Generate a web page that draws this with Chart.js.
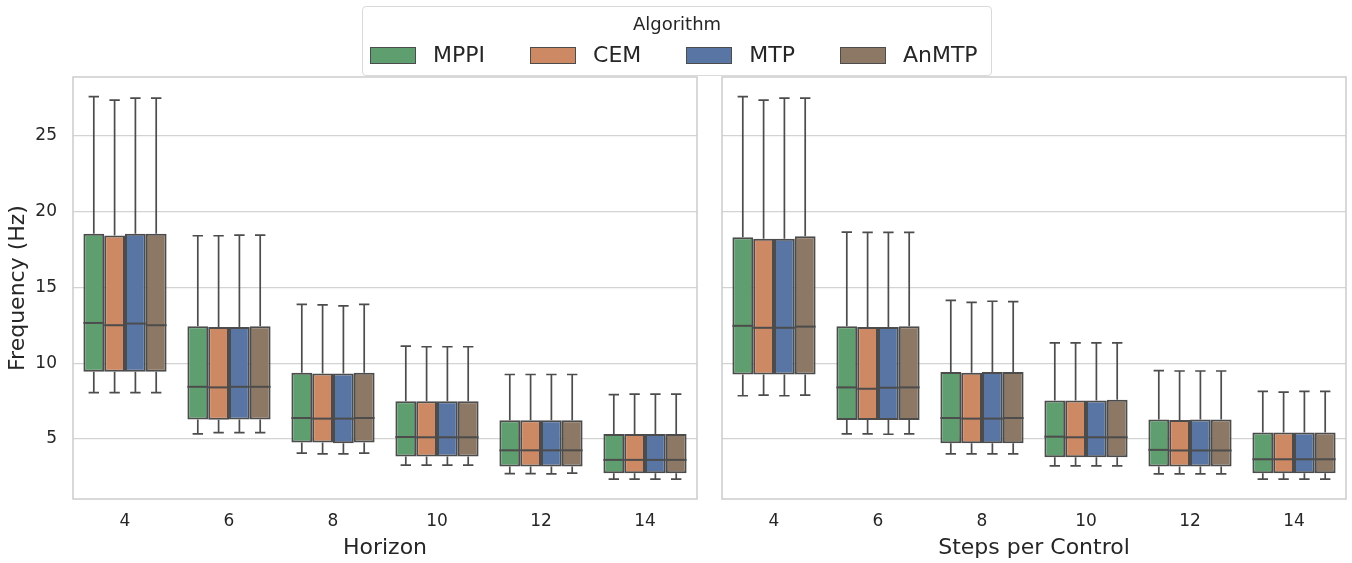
<!DOCTYPE html>
<html>
<head>
<meta charset="utf-8">
<script src="https://cdn.jsdelivr.net/npm/chart.js@4"></script>
<style>
  html, body { margin: 0; padding: 0; background: #ffffff; }
  body { width: 1352px; height: 563px; position: relative; overflow: hidden; font-family: "DejaVu Sans", sans-serif; color: #262626; }
  #horizonChart { position: absolute; left: 0; top: 0; }
  #stepsChart { position: absolute; left: 700px; top: 0; }
  #legend {
    position: absolute; left: 362px; top: 6px; width: 630px; height: 70px;
    box-sizing: border-box; border: 1px solid #d9d9d9; border-radius: 4px; background: #ffffff;
  }
  #legend .title {
    position: absolute; left: 0; right: 0; top: 5px; text-align: center;
    font-size: 18px; line-height: 24px;
  }
  #legend .row {
    position: absolute; left: 7px; top: 36px; height: 24px;
    display: flex; align-items: center; font-size: 22px; line-height: 24px;
  }
  #legend .item { display: flex; align-items: center; margin-right: 45px; }
  #legend .item:last-child { margin-right: 0; }
  #legend .swatch {
    width: 46px; height: 17px; box-sizing: border-box; border: 1.5px solid #4c4c4c; margin-right: 17px;
  }
</style>
</head>
<body>
<canvas id="horizonChart" width="700" height="563"></canvas>
<canvas id="stepsChart" width="652" height="563"></canvas>
<div id="legend">
  <div class="title">Algorithm</div>
  <div class="row" id="legendRow"></div>
</div>
<script>
// Category ticks shared by both panels
const horizonLabels = ['4', '6', '8', '10', '12', '14'];
const stepsLabels = ['4', '6', '8', '10', '12', '14'];
const algorithms = ['MPPI', 'CEM', 'MTP', 'AnMTP'];
const yTicks = [5, 10, 15, 20, 25];

// Box statistics per category: [whisker low, Q1, median, Q3, whisker high]
const horizonMPPI = [
  [8.05, 9.43, 12.65, 18.53, 27.57], [5.33, 6.29, 8.44, 12.43, 18.40], [4.06, 4.76, 6.38, 9.36, 13.88],
  [3.27, 3.84, 5.13, 7.48, 11.12], [2.72, 3.18, 4.25, 6.23, 9.25], [2.35, 2.74, 3.62, 5.33, 7.92]
];
const horizonCEM = [
  [8.05, 9.43, 12.50, 18.42, 27.34], [5.42, 6.26, 8.40, 12.39, 18.40], [4.01, 4.76, 6.34, 9.32, 13.84],
  [3.27, 3.84, 5.11, 7.48, 11.08], [2.72, 3.18, 4.25, 6.23, 9.25], [2.35, 2.74, 3.62, 5.33, 7.96]
];
const horizonMTP = [
  [8.05, 9.43, 12.61, 18.53, 27.48], [5.42, 6.29, 8.44, 12.39, 18.44], [4.01, 4.71, 6.34, 9.32, 13.77],
  [3.27, 3.84, 5.11, 7.48, 11.08], [2.70, 3.18, 4.25, 6.23, 9.25], [2.35, 2.74, 3.62, 5.33, 7.96]
];
const horizonAnMTP = [
  [8.05, 9.43, 12.50, 18.53, 27.48], [5.42, 6.29, 8.44, 12.43, 18.44], [4.06, 4.76, 6.38, 9.36, 13.88],
  [3.27, 3.84, 5.11, 7.48, 11.08], [2.74, 3.18, 4.25, 6.23, 9.25], [2.35, 2.74, 3.62, 5.33, 7.96]
];

const stepsMPPI = [
  [7.85, 9.25, 12.46, 18.31, 27.57], [5.33, 6.25, 8.40, 12.43, 18.64], [4.01, 4.71, 6.38, 9.41, 14.14],
  [3.22, 3.79, 5.15, 7.54, 11.34], [2.70, 3.18, 4.28, 6.29, 9.50], [2.35, 2.74, 3.66, 5.42, 8.14]
];
const stepsCEM = [
  [7.89, 9.25, 12.33, 18.20, 27.34], [5.33, 6.25, 8.31, 12.39, 18.62], [4.01, 4.71, 6.34, 9.36, 14.01],
  [3.22, 3.79, 5.11, 7.54, 11.34], [2.70, 3.18, 4.24, 6.25, 9.48], [2.35, 2.74, 3.66, 5.42, 8.09]
];
const stepsMTP = [
  [7.85, 9.25, 12.33, 18.20, 27.48], [5.31, 6.25, 8.38, 12.39, 18.62], [4.01, 4.71, 6.34, 9.41, 14.08],
  [3.22, 3.79, 5.11, 7.54, 11.34], [2.70, 3.18, 4.24, 6.29, 9.48], [2.35, 2.74, 3.66, 5.42, 8.14]
];
const stepsAnMTP = [
  [7.89, 9.25, 12.41, 18.36, 27.48], [5.33, 6.25, 8.40, 12.43, 18.62], [4.01, 4.71, 6.38, 9.41, 14.06],
  [3.22, 3.79, 5.11, 7.58, 11.34], [2.70, 3.18, 4.24, 6.29, 9.48], [2.35, 2.74, 3.66, 5.42, 8.14]
];

// Styling
const fillColors = ['#5f9e6e', '#cc8963', '#5975a4', '#8c7864'];
const lineColor = '#4c4c4c';
const textColor = '#262626';
const gridColor = '#d3d3d3';
const frameColor = '#cccccc';
const fontFamily = '"DejaVu Sans", sans-serif';

// Draws whiskers, caps and median lines on top of the Q1..Q3 bars
const boxWhiskers = {
  id: 'boxWhiskers',
  afterDatasetsDraw(chart) {
    const ctx = chart.ctx;
    const y = chart.scales.y;
    ctx.save();
    ctx.strokeStyle = lineColor;
    chart.data.datasets.forEach((ds, di) => {
      const meta = chart.getDatasetMeta(di);
      meta.data.forEach((bar, i) => {
        const s = ds.stats[i];
        const half = bar.width / 2;
        const cap = bar.width / 4;
        const x = bar.x;
        const pLow = y.getPixelForValue(s[0]);
        const pQ1 = y.getPixelForValue(s[1]);
        const pMed = y.getPixelForValue(s[2]);
        const pQ3 = y.getPixelForValue(s[3]);
        const pHigh = y.getPixelForValue(s[4]);
        // whiskers and caps
        ctx.lineWidth = 1.7;
        ctx.beginPath();
        ctx.moveTo(x, pQ3); ctx.lineTo(x, pHigh);
        ctx.moveTo(x, pQ1); ctx.lineTo(x, pLow);
        ctx.moveTo(x - cap, pHigh); ctx.lineTo(x + cap, pHigh);
        ctx.moveTo(x - cap, pLow); ctx.lineTo(x + cap, pLow);
        ctx.stroke();
        // median
        ctx.lineWidth = 2;
        ctx.beginPath();
        ctx.moveTo(x - half, pMed); ctx.lineTo(x + half, pMed);
        ctx.stroke();
      });
    });
    ctx.restore();
  }
};

// Light frame around each panel
const panelFrame = {
  id: 'panelFrame',
  beforeDatasetsDraw(chart) {
    const a = chart.chartArea;
    const ctx = chart.ctx;
    ctx.save();
    ctx.strokeStyle = frameColor;
    ctx.lineWidth = 1.5;
    ctx.strokeRect(a.left, a.top, a.right - a.left, a.bottom - a.top);
    ctx.restore();
  }
};

function makePanel(canvasId, labels, seriesList, xTitle, showY, padRight, yWidth) {
  const datasets = seriesList.map((series, k) => ({
    label: algorithms[k],
    data: series.map(s => [s[1], s[3]]),
    stats: series,
    backgroundColor: fillColors[k],
    borderColor: lineColor,
    borderWidth: 2,
    borderSkipped: false,
    categoryPercentage: 0.8,
    barPercentage: 1.0
  }));
  return new Chart(document.getElementById(canvasId), {
    type: 'bar',
    data: { labels, datasets },
    options: {
      responsive: false,
      animation: false,
      events: [],
      layout: { padding: { left: 0, top: 77, right: padRight, bottom: 0 } },
      plugins: { legend: { display: false }, tooltip: { enabled: false }, title: { display: false } },
      scales: {
        x: {
          grid: { display: false, drawTicks: false },
          border: { display: false },
          ticks: { color: textColor, font: { family: fontFamily, size: 17 }, padding: 12 },
          title: { display: true, text: xTitle, color: textColor, font: { family: fontFamily, size: 22 }, padding: { top: 0, bottom: 2 } },
          afterFit(scale) { scale.height = 64; }
        },
        y: {
          min: 1.04,
          max: 28.87,
          grid: { color: gridColor, lineWidth: 1.2, drawTicks: false },
          border: { display: false },
          afterBuildTicks(scale) { scale.ticks = yTicks.map(v => ({ value: v })); },
          ticks: { display: showY, color: textColor, font: { family: fontFamily, size: 17 }, padding: 16 },
          title: { display: showY, text: 'Frequency (Hz)', color: textColor, font: { family: fontFamily, size: 22 }, padding: { top: 5, bottom: 0 } },
          afterFit(scale) { scale.width = yWidth; }
        }
      }
    },
    plugins: [panelFrame, boxWhiskers]
  });
}

makePanel('horizonChart', horizonLabels, [horizonMPPI, horizonCEM, horizonMTP, horizonAnMTP], 'Horizon', true, 3, 73);
makePanel('stepsChart', stepsLabels, [stepsMPPI, stepsCEM, stepsMTP, stepsAnMTP], 'Steps per Control', false, 6, 22);

// Shared legend
const row = document.getElementById('legendRow');
algorithms.forEach((name, k) => {
  const item = document.createElement('div');
  item.className = 'item';
  const sw = document.createElement('div');
  sw.className = 'swatch';
  sw.style.background = fillColors[k];
  const txt = document.createElement('span');
  txt.textContent = name;
  item.appendChild(sw);
  item.appendChild(txt);
  row.appendChild(item);
});
</script>
</body>
</html>
